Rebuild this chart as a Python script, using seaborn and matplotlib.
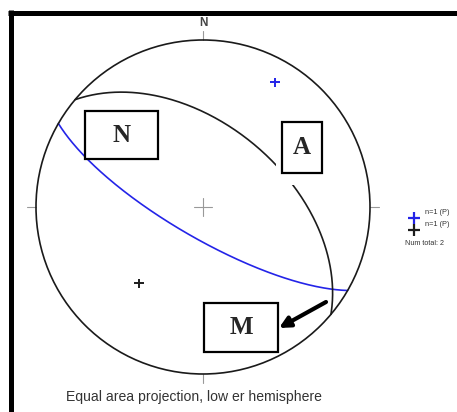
import numpy as np
import pandas as pd
import seaborn as sns
import matplotlib.pyplot as plt
from matplotlib.patches import Rectangle, Circle
from matplotlib.lines import Line2D

# planes measured (strike, dip - right hand rule)
plane_names = ['blue', 'black']
strikes = [120, 310]
dips = [75, 50]
plane_colors = {'blue': '#2424e8', 'black': '#1c1c1c'}
legend_labels = ['n=1 (P)', 'n=1 (P)']
num_total = 2

box_labels = ['N', 'A', 'M']
caption = 'Equal area projection, low er hemisphere'

# pixel geometry of the net in the picture
CX, CY, R = 203, 207, 167
W, H = 457, 412


def px(x, y):
    # picture pixel -> net units
    return (x - CX) / R, (CY - y) / R


def project(trend, plunge):
    # equal area (Schmidt), lower hemisphere
    t = np.radians(trend)
    r = np.sqrt(2) * np.sin(np.radians(90 - np.asarray(plunge)) / 2)
    return r * np.sin(t), r * np.cos(t)


def great_circle(strike, dip, n=200):
    s, d = np.radians(strike), np.radians(dip)
    dd = s + np.pi / 2
    sv = np.array([np.sin(s), np.cos(s), 0.0])
    dv = np.array([np.sin(dd) * np.cos(d), np.cos(dd) * np.cos(d), -np.sin(d)])
    a = np.linspace(0, np.pi, n)
    v = np.outer(np.cos(a), sv) + np.outer(np.sin(a), dv)
    plunge = np.degrees(np.arcsin(np.clip(-v[:, 2], -1, 1)))
    trend = np.degrees(np.arctan2(v[:, 0], v[:, 1]))
    return project(trend, plunge)


rows = []
for name, st, dp in zip(plane_names, strikes, dips):
    gx, gy = great_circle(st, dp)
    for i, (a, b) in enumerate(zip(gx, gy)):
        rows.append({'plane': name, 'i': i, 'x': a, 'y': b})
arcs = pd.DataFrame(rows)

pole_trend = [(s - 90) % 360 for s in strikes]
pole_plunge = [90 - d for d in dips]
ptx, pty = project(np.array(pole_trend), np.array(pole_plunge))
poles = pd.DataFrame({'plane': plane_names, 'x': ptx, 'y': pty})

sns.set_style('white')
fig = plt.figure(figsize=(W / 100, H / 100), dpi=100)
ax = fig.add_axes([0, 0, 1, 1])
x0, y1 = px(0, 0)
x1, y0 = px(W, H)
ax.set_xlim(x0, x1)
ax.set_ylim(y0, y1)
ax.axis('off')

# primitive circle, ticks and centre cross
ax.add_patch(Circle((0, 0), 1, fill=False, lw=1.2, ec='#1a1a1a', zorder=3))
tk = 0.055
for a, b in [((0, 0), (1, 1 + tk)), ((0, 0), (-1, -1 - tk)),
             ((1, 1 + tk), (0, 0)), ((-1, -1 - tk), (0, 0))]:
    ax.plot(a, b, color='#999999', lw=0.8)
cc = 9 / R
ax.plot([-cc, cc], [0, 0], color='#999999', lw=0.8)
ax.plot([0, 0], [-cc, cc], color='#999999', lw=0.8)
ax.text(0, px(0, 23)[1], 'N', ha='center', va='center', fontsize=8.5,
        color='#444444', fontfamily='Liberation Sans', fontweight='bold')

sns.lineplot(data=arcs, x='x', y='y', hue='plane', palette=plane_colors,
             sort=False, estimator=None, units='plane', legend=False,
             lw=1.2, ax=ax, zorder=2)
sns.scatterplot(data=poles, x='x', y='y', hue='plane', palette=plane_colors,
                marker='+', s=50, linewidth=1.4, legend=False, ax=ax, zorder=4)
ax.set_xlabel('')
ax.set_ylabel('')

# label boxes
boxes = {'N': (85, 111, 158, 159), 'A': (282, 122, 322, 173), 'M': (204, 303, 278, 352)}
# white gap cut into the black arc behind box A
gx0, gy0 = px(276, 185)
gx1, gy1 = px(328, 118)
ax.add_patch(Rectangle((gx0, gy0), gx1 - gx0, gy1 - gy0, fc='white', ec='none', zorder=5))
for lab in box_labels:
    l, t, r, b = boxes[lab]
    bx0, by0 = px(l, b)
    bx1, by1 = px(r, t)
    ax.add_patch(Rectangle((bx0, by0), bx1 - bx0, by1 - by0, fc='white',
                           ec='black', lw=1.6, zorder=6))
    ax.text((bx0 + bx1) / 2, (by0 + by1) / 2, lab, ha='center', va='center',
            fontsize=18, fontweight='bold', fontfamily='Liberation Serif', zorder=7)

# arrow towards M
ax.annotate('', xy=px(279, 328), xytext=px(326, 302),
            arrowprops=dict(arrowstyle='-|>', lw=3, color='black',
                            mutation_scale=16, shrinkA=0, shrinkB=0), zorder=8)

# legend
for k, (name, lab) in enumerate(zip(plane_names, legend_labels)):
    mx, my = px(414, 218 + 12 * k)
    ax.plot(mx, my, marker='+', ms=8, mew=1.6, color=plane_colors[name])
    tx, ty = px(425, 213 + 12 * k)
    ax.text(tx, ty, lab, fontsize=5.3, color='#333333', va='center',
            fontfamily='Liberation Sans')
tx, ty = px(405, 244)
ax.text(tx, ty, f'Num total: {num_total}', fontsize=5.2, color='#333333',
        va='center', fontfamily='Liberation Sans')

ax.text(px(194, 0)[0], px(0, 397)[1], caption, ha='center', va='center',
        fontsize=10.1, color='#333333', fontfamily='Liberation Sans')

# heavy frame on top and left
fig.add_artist(Line2D([8 / W, 1], [1 - 12.5 / H, 1 - 12.5 / H], color='black',
                      lw=3.6, solid_capstyle='butt'))
fig.add_artist(Line2D([10.5 / W, 10.5 / W], [1 - 10 / H, 0], color='black',
                      lw=3.6, solid_capstyle='butt'))

fig.savefig('out.png', dpi=100)
